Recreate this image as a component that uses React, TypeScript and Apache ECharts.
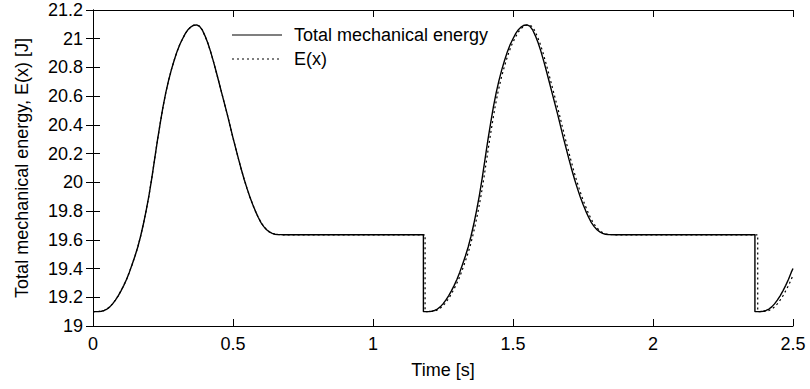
import React, { useEffect, useRef } from "react";
import * as echarts from "echarts";

// One energy cycle (time since the cycle's start [s], energy [J])
const profileTime = [
  0, 0.01, 0.02, 0.03, 0.04, 0.05, 0.06, 0.07, 0.08, 0.09, 0.1, 0.11, 0.12, 0.13, 0.14, 0.15,
  0.16, 0.17, 0.18, 0.19, 0.2, 0.21, 0.22, 0.23, 0.24, 0.25, 0.26, 0.27, 0.28, 0.29, 0.3, 0.31,
  0.32, 0.33, 0.34, 0.35, 0.36, 0.37, 0.38, 0.39, 0.4, 0.41, 0.42, 0.43, 0.44, 0.45, 0.46, 0.47,
  0.48, 0.49, 0.5, 0.51, 0.52, 0.53, 0.54, 0.55, 0.56, 0.57, 0.58, 0.59, 0.6, 0.61, 0.62, 0.63,
  0.64, 0.65, 0.66, 0.67, 0.68,
];
const profileEnergy = [
  19.1, 19.1, 19.101, 19.103, 19.108, 19.118, 19.133, 19.154, 19.18, 19.21, 19.245, 19.283,
  19.325, 19.375, 19.43, 19.487, 19.55, 19.625, 19.71, 19.805, 19.91, 20.03, 20.16, 20.29, 20.41,
  20.525, 20.625, 20.71, 20.785, 20.85, 20.91, 20.96, 21.0, 21.037, 21.065, 21.083, 21.094,
  21.096, 21.088, 21.062, 21.02, 20.97, 20.91, 20.842, 20.77, 20.695, 20.62, 20.545, 20.47,
  20.39, 20.31, 20.235, 20.16, 20.088, 20.02, 19.958, 19.9, 19.848, 19.8, 19.757, 19.72, 19.692,
  19.67, 19.655, 19.645, 19.639, 19.637, 19.636, 19.635,
];
const plateauEnergy = 19.635;
const solidCycleStarts = [0, 1.18, 2.364];
const dottedCycleStarts = [0, 1.186, 2.374];
const endTime = 2.5;
const solidEndEnergy = 19.4;
const dottedEndEnergy = 19.355;

const xTicks = { min: 0, max: 2.5, interval: 0.5 };
const yTicks = { min: 19, max: 21.2, interval: 0.2 };

const seriesNames = ["Total mechanical energy", "E(x)"];

function buildSeries(starts: number[], endEnergy: number): number[][] {
  const pts: number[][] = [];
  starts.forEach((s, i) => {
    const next = i + 1 < starts.length ? starts[i + 1] : null;
    for (let k = 0; k < profileTime.length; k++) {
      const t = s + profileTime[k];
      if (t >= endTime) break;
      if (next !== null && t >= next) break;
      pts.push([t, profileEnergy[k]]);
    }
    if (next !== null) {
      pts.push([next, plateauEnergy]);
    } else {
      pts.push([endTime, endEnergy]);
    }
  });
  return pts;
}

const FONT = "'Liberation Sans', Arial, Helvetica, sans-serif";

export default function App() {
  const ref = useRef<HTMLDivElement>(null);
  useEffect(() => {
    if (!ref.current) return;
    const chart = echarts.init(ref.current, undefined, { renderer: "svg" });
    const axisLine = { show: true, lineStyle: { color: "#000", width: 1 } };
    const axisTick = { show: true, inside: true, length: 7, lineStyle: { color: "#000", width: 1 } };
    const label = { color: "#000", fontSize: 18, fontFamily: FONT };
    chart.setOption({
      animation: false,
      backgroundColor: "#fff",
      grid: { left: 93, right: 17, top: 10, bottom: 63, containLabel: false },
      xAxis: [
        {
          type: "value",
          position: "bottom",
          ...xTicks,
          axisLine,
          axisTick,
          splitLine: { show: false },
          axisLabel: { ...label, margin: 9, showMinLabel: true, showMaxLabel: true },
          name: "Time [s]",
          nameLocation: "middle",
          nameGap: 35,
          nameTextStyle: label,
        },
        {
          type: "value",
          position: "top",
          ...xTicks,
          axisLine,
          axisTick,
          splitLine: { show: false },
          axisLabel: { show: false },
        },
      ],
      yAxis: [
        {
          type: "value",
          position: "left",
          ...yTicks,
          axisLine,
          axisTick,
          splitLine: { show: false },
          axisLabel: { ...label, margin: 10, showMinLabel: true, showMaxLabel: true },
          name: "Total mechanical energy, E(x) [J]",
          nameLocation: "middle",
          nameGap: 62,
          nameTextStyle: label,
        },
        {
          type: "value",
          position: "right",
          ...yTicks,
          axisLine,
          axisTick,
          splitLine: { show: false },
          axisLabel: { show: false },
        },
      ],
      series: [
        {
          name: seriesNames[0],
          type: "line",
          xAxisIndex: 0,
          yAxisIndex: 0,
          data: buildSeries(solidCycleStarts, solidEndEnergy),
          showSymbol: false,
          symbol: "none",
          clip: true,
          lineStyle: { color: "#000", width: 1.4 },
        },
        {
          name: seriesNames[1],
          type: "line",
          xAxisIndex: 0,
          yAxisIndex: 0,
          data: buildSeries(dottedCycleStarts, dottedEndEnergy),
          showSymbol: false,
          symbol: "none",
          clip: true,
          lineStyle: { color: "#000", width: 1.2, type: [2, 3] },
        },
      ],
      graphic: [
        {
          type: "line",
          shape: { x1: 232, y1: 35, x2: 282, y2: 35 },
          style: { stroke: "#000", lineWidth: 1.2 },
        },
        {
          type: "line",
          shape: { x1: 232, y1: 59, x2: 282, y2: 59 },
          style: { stroke: "#000", lineWidth: 1.1, lineDash: [2, 3] },
        },
        {
          type: "text",
          x: 294,
          y: 35,
          style: {
            text: seriesNames[0],
            fill: "#000",
            font: `18px ${FONT}`,
            verticalAlign: "middle",
            align: "left",
          },
        },
        {
          type: "text",
          x: 294,
          y: 59,
          style: {
            text: seriesNames[1],
            fill: "#000",
            font: `18px ${FONT}`,
            verticalAlign: "middle",
            align: "left",
          },
        },
      ],
    });
    return () => chart.dispose();
  }, []);
  return (
    <div
      ref={ref}
      style={{ position: "fixed", left: 0, top: 0, width: 810, height: 389, background: "#fff" }}
    />
  );
}
